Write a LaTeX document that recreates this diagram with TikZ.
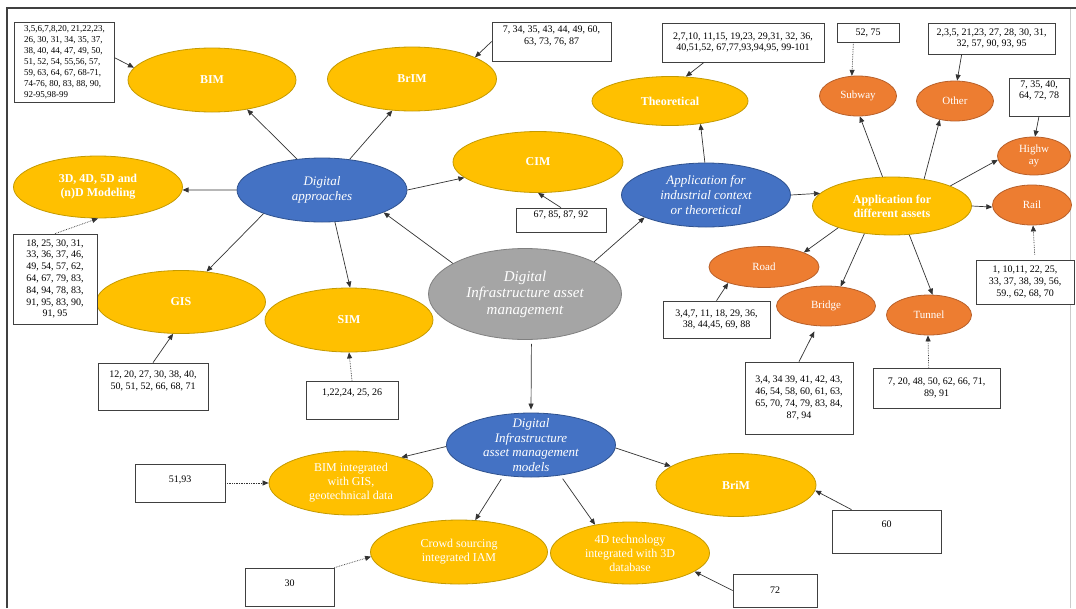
\documentclass[tikz,border=0pt]{standalone}
\usepackage{fontspec}
\setmainfont{Liberation Serif}
\usetikzlibrary{shapes.geometric,arrows.meta}
\definecolor{goldf}{HTML}{FFC000}
\definecolor{goldl}{HTML}{C49A00}
\definecolor{bluef}{HTML}{4472C4}
\definecolor{bluel}{HTML}{2F528F}
\definecolor{grayf}{HTML}{A5A5A5}
\definecolor{grayl}{HTML}{808080}
\definecolor{orangef}{HTML}{ED7D31}
\definecolor{orangel}{HTML}{B8602A}
\newcommand{\bxc}[3]{\parbox[c][#2][c]{#1}{\centering #3}}
\newcommand{\bxt}[4]{\parbox[c][#2][t]{#1}{\centering\vspace*{#3}#4}}
\tikzset{
  ell/.style={ellipse, inner xsep=-10pt, inner ysep=-20pt, text=white, align=center, line width=0.8pt},
  yel/.style={ell, fill=goldf, draw=goldl, font=\fontsize{12}{14}\selectfont\bfseries},
  yelr/.style={ell, fill=goldf, draw=goldl, font=\fontsize{12}{14}\selectfont},
  blu/.style={ell, fill=bluef, draw=bluel, font=\fontsize{13}{14.7}\selectfont\itshape},
  gry/.style={ell, fill=grayf, draw=grayl, font=\fontsize{15}{16.5}\selectfont\itshape},
  org/.style={ell, fill=orangef, draw=orangel, font=\fontsize{11}{12}\selectfont},
  rbox/.style={draw=black!75, line width=0.7pt, fill=white, inner sep=0pt, font=\fontsize{10}{11.8}\selectfont},
  con/.style={draw=black!80, line width=0.7pt, -{Triangle[length=6pt,width=5pt]}},
  dcon/.style={con, densely dotted},
}
\begin{document}
\begin{tikzpicture}[x=1pt,y=-1pt]
\useasboundingbox (0,0) rectangle (1076,608);
\fill[white] (0,0) rectangle (1076,608);
% frame
\draw[black!75, line width=2pt] (7,608) -- (7,8) -- (1076,8);
\draw[black!20, line width=1pt] (1070,9) -- (1070,608);

% ellipses
\node[yel, minimum width=168pt, minimum height=64pt] (bim) at (212,80) {BIM};
\node[yel, minimum width=169pt, minimum height=64pt] (brim) at (412,79) {BrIM};
\node[yel, minimum width=170pt, minimum height=61pt] (cim) at (538,162) {CIM};
\node[yel, minimum width=156pt, minimum height=49pt] (theo) at (670,101) {Theoretical};
\node[blu, minimum width=170pt, minimum height=64pt] (da) at (322,190) {Digital\\approaches};
\node[yel, minimum width=169pt, minimum height=62pt] (d3) at (98,187) {3D, 4D, 5D and\\(n)D Modeling};
\node[yel, minimum width=169pt, minimum height=63pt] (gis) at (181,302) {GIS};
\node[yel, minimum width=168pt, minimum height=64pt] (sim) at (349,320) {SIM};
\node[gry, minimum width=193pt, minimum height=91pt] (dia) at (525,294) {Digital\\Infrastructure asset\\management};
\node[blu, minimum width=169pt, minimum height=64pt] (ai) at (706,195) {Application for\\industrial context\\or theoretical};
\node[yel, minimum width=159pt, minimum height=58pt] (aa) at (892,206) {Application for\\different assets};
\node[org, minimum width=77pt, minimum height=40pt] (subway) at (858,96) {Subway};
\node[org, minimum width=77pt, minimum height=40pt] (other) at (955,101) {Other};
\node[org, minimum width=73pt, minimum height=38pt] (hwy) at (1034,156) {Highw\\ay};
\node[org, minimum width=79pt, minimum height=40pt] (rail) at (1032,205) {Rail};
\node[org, minimum width=110pt, minimum height=41pt] (road) at (764,267) {Road};
\node[org, minimum width=99pt, minimum height=40pt] (bridge) at (826,306) {Bridge};
\node[org, minimum width=85pt, minimum height=40pt] (tunnel) at (929,315) {Tunnel};
\node[blu, minimum width=169pt, minimum height=64pt] (models) at (531,445) {Digital\\Infrastructure\\asset management\\models};
\node[yelr, minimum width=164pt, minimum height=64pt] (bimint) at (351,483) {BIM integrated\\with GIS,\\geotechnical data};
\node[yelr, minimum width=177pt, minimum height=64pt] (crowd) at (459,552) {Crowd sourcing\\integrated IAM};
\node[yelr, minimum width=159pt, minimum height=62pt] (d4) at (630,553) {4D technology\\integrated with 3D\\database};
\node[yel, minimum width=160pt, minimum height=63pt] (brim2) at (736,485) {BriM};

% reference boxes
\node[rbox, font=\fontsize{9}{10.9}\selectfont] (bimref) at (64,62) {\parbox[c][80pt][c]{100pt}{\raggedright\leftskip=10pt 3,5,6,7,8,20, 21,22,23,\\26, 30, 31, 34, 35, 37,\\38, 40, 44, 47, 49, 50,\\51, 52, 54, 55,56, 57,\\59, 63, 64, 67, 68-71,\\74-76, 80, 83, 88, 90,\\92-95,98-99}};
\node[rbox] (brimref) at (551.5,41.5) {\bxt{119pt}{39pt}{4pt}{7, 34, 35, 43, 44, 49, 60,\\63, 73, 76, 87}};
\node[rbox] (theoref) at (743,42.5) {\bxc{162pt}{39pt}{2,7,10, 11,15, 19,23, 29,31, 32, 36,\\40,51,52, 67,77,93,94,95, 99-101}};
\node[rbox] (subwayref) at (868,32.5) {\bxc{62pt}{19pt}{52, 75}};
\node[rbox] (otherref) at (991.5,38.5) {\bxc{127pt}{31pt}{2,3,5, 21,23, 27, 28, 30, 31,\\32, 57, 90, 93, 95}};
\node[rbox] (hwyref) at (1039,97) {\bxt{60pt}{38pt}{2.5pt}{7, 35, 40,\\64, 72, 78}};
\node[rbox] (railref) at (1025,282) {\bxc{98pt}{44pt}{1, 10,11, 22, 25,\\33, 37, 38, 39, 56,\\59., 62, 68, 70}};
\node[rbox] (roadref) at (716.5,319.5) {\bxc{107pt}{37pt}{3,4,7, 11, 18, 29, 36,\\38, 44,45, 69, 88}};
\node[rbox] (bridgeref) at (799,398) {\bxc{108pt}{72pt}{3,4, 34 39, 41, 42, 43,\\46, 54, 58, 60, 61, 63,\\65, 70, 74, 79, 83, 84,\\87, 94}};
\node[rbox] (tunnelref) at (936.5,388) {\bxc{127pt}{40pt}{7, 20, 48, 50, 62, 66, 71,\\89, 91}};
\node[rbox] (cimref) at (561,220) {\bxt{90pt}{24pt}{3pt}{67, 85, 87, 92}};
\node[rbox] (d3ref) at (55,279) {\bxc{84pt}{90pt}{18, 25, 30, 31,\\33, 36, 37, 46,\\49, 54, 57, 62,\\64, 67, 79, 83,\\84, 94, 78, 83,\\91, 95, 83, 90,\\91, 95}};
\node[rbox] (gisref) at (153,386.5) {\bxt{110pt}{47pt}{8pt}{12, 20, 27, 30, 38, 40,\\50, 51, 52, 66, 68, 71}};
\node[rbox] (simref) at (352,400) {\bxt{92pt}{38pt}{8pt}{1,22,24, 25, 26}};
\node[rbox] (r5193) at (180,483) {\bxt{90pt}{38pt}{12pt}{51,93}};
\node[rbox] (r30) at (289.5,587) {\bxt{89pt}{38pt}{12pt}{30}};
\node[rbox] (r60) at (886.5,531.5) {\bxt{109pt}{43pt}{11pt}{60}};
\node[rbox] (r72) at (775,590.5) {\bxc{84pt}{33pt}{72}};

% main connectors
\draw[con] (da.129) -- (bim.-40);
\draw[con] (da.48) -- (brim.-122);
\draw[con] (da.180) -- (d3.-2);
\draw[con] (da.0) -- (cim.192);
\draw[con] (da.202) -- (gis.50);
\draw[con] (da.-68) -- (sim.88);
\draw[con] (dia.157) -- (da.-20);
\draw[con] (dia.25) -- (ai.200);
\draw[con, shorten <=4pt, shorten >=3pt] (dia.-82) -- (models.north);
\draw[con] (ai.92) -- (theo.-37);
\draw[con] (ai.0) -- (aa.170);
\draw[con] (aa.108) -- (subway.-85);
\draw[con] (aa.40) -- (other.-129);
\draw[con] (aa.19) -- (hwy.186);
\draw[con] (aa.0) -- (rail.183);
\draw[con] (aa.202) -- (road.20);
\draw[con] (aa.225) -- (bridge.53);
\draw[con] (aa.-59) -- (tunnel.80);
\draw[con] (models.181) -- (bimint.27);
\draw[con] (models.-2) -- (brim2.164);
\draw[con, shorten <=4pt] (models.228) -- (crowd.63);
\draw[con, shorten <=4pt] (models.-46) -- (d4.141);

% reference connectors
\draw[con] (bimref.5) -- (bim.171);
\draw[con] (brimref.west) -- (brim.19);
\draw[con] (theoref.207) -- (theo.57);
\draw[dcon] (subwayref.214) -- (subway.107);
\draw[con] (otherref.208) -- (other.84);
\draw[con] (hwyref.south) -- (hwy.87);
\draw[dcon, shorten <=5pt] (railref.66) -- (rail.-87);
\draw[con] (roadref.north) -- (road.204);
\draw[con, shorten >=6pt] (bridgeref.north) -- (bridge.246);
\draw[dcon] (tunnelref.111) -- (tunnel.-93);
\draw[con] (cimref.north) -- (cim.south);
\draw[dcon] (d3ref.north) -- (d3.south);
\draw[con] (gisref.north) -- (gis.-104);
\draw[dcon] (simref.north) -- (sim.south);
\draw[dcon] (r5193.east) -- (bimint.west);
\draw[dcon] (r30.north east) -- (crowd.183);
\draw[con] (r60.148) -- (brim2.-4);
\draw[con] (r72.west) -- (d4.-16);
\end{tikzpicture}
\end{document}
